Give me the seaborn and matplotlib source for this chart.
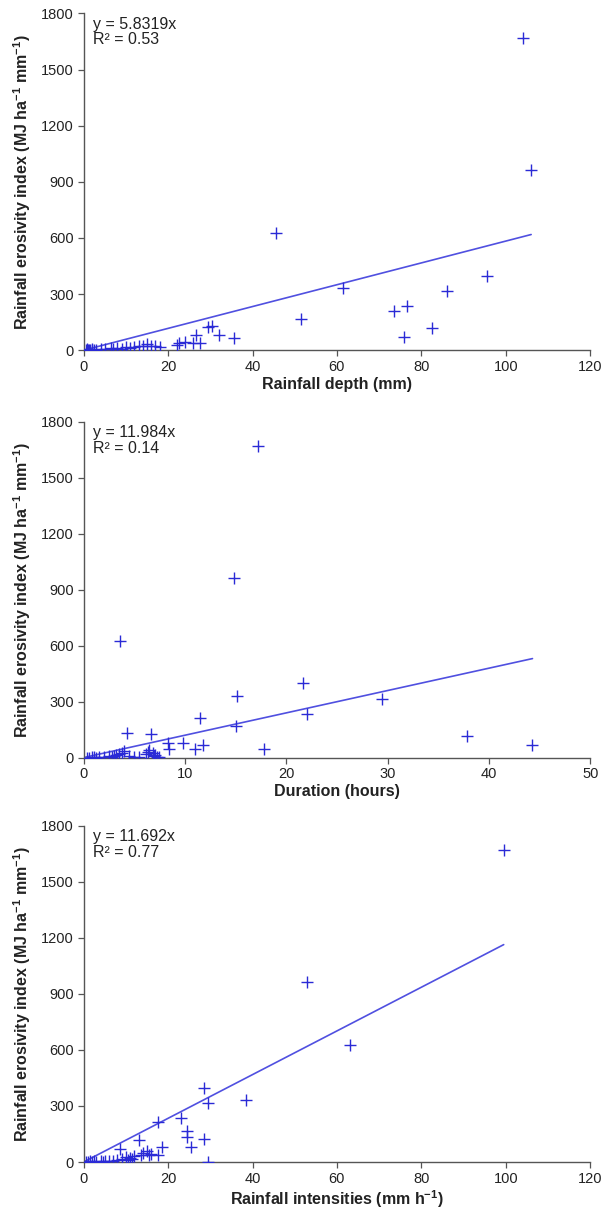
import matplotlib
matplotlib.use("Agg")
import matplotlib.pyplot as plt
import seaborn as sns
import numpy as np
import pandas as pd

# Panel 1: rainfall depth (mm) vs EI
depth_x = [104, 106, 45.5, 95.5, 86, 61.5, 73.5, 76.5, 82.5, 76, 51.5, 29.5, 30.5, 32, 35.5,
           26.5, 26, 27.5, 24, 22.5, 22, 15, 14, 16, 13, 12, 10, 11, 8, 7, 6.5, 5, 4, 3, 2,
           1.5, 1, 0.5, 2, 1.2, 0.8, 2.5, 9, 18, 17]
depth_y = [1670, 965, 625, 398, 315, 330, 212, 235, 118, 70, 168, 125, 130, 80, 65,
           80, 40, 40, 45, 40, 30, 35, 25, 20, 20, 15, 15, 10, 10, 5, 12, 5, 5, 3, 2,
           1, 0, 0, 5, 3, 8, 0, 8, 15, 20]

# Panel 2: duration (hours) vs EI
dur_x = [17.2, 14.8, 3.6, 21.7, 15.1, 29.4, 22, 11.5, 15, 4.3, 6.6, 37.8, 44.3, 8.3, 9.8,
         8.4, 11.8, 11, 17.8, 6.5, 6.4, 6.8, 7, 7.2, 6.9, 4, 3.8, 3.5, 3.2, 4.5, 5, 3, 2.5,
         2, 1.5, 1.2, 1, 0.5, 0.3, 0.8, 2.8, 5.5, 6.2, 7.4]
dur_y = [1670, 965, 625, 398, 330, 315, 235, 212, 170, 130, 125, 118, 70, 80, 80,
         45, 65, 45, 45, 40, 30, 25, 15, 5, 8, 35, 25, 20, 15, 10, 5, 10, 8,
         5, 3, 0, 2, 0, 0, 5, 3, 5, 20, 3]

# Panel 3: rainfall intensity (mm/h) vs EI
int_x = [99.5, 53, 63, 28.5, 38.5, 29.5, 23, 17.5, 24.5, 24.5, 28.5, 13, 25.5, 18.5, 8.5,
         15, 14, 15.5, 17.5, 29.5, 12, 11, 10, 9, 10.5, 8, 7, 6, 5, 4, 4.5, 3, 2, 1.5, 1,
         0.5, 2.5, 11.5, 16, 13.5]
int_y = [1670, 965, 625, 398, 330, 315, 235, 212, 165, 135, 125, 120, 80, 80, 70,
         60, 50, 40, 35, 0, 30, 20, 25, 15, 10, 10, 5, 8, 5, 3, 0, 2, 0, 5, 0,
         2, 8, 15, 45, 35]

slopes = [5.8319, 11.984, 11.692]
r2 = [0.53, 0.14, 0.77]
xlabels = ["Rainfall depth (mm)", "Duration (hours)", "Rainfall intensities (mm h$^{\\mathregular{-1}}$)"]
xmax = [120, 50, 120]
xstep = [20, 10, 20]
yticks = [0, 300, 600, 900, 1200, 1500, 1800]

sns.set_theme(style="ticks")
plt.rcParams['font.family'] = ['Liberation Sans', 'DejaVu Sans']

fig = plt.figure(figsize=(6.06, 12.16), dpi=100)
positions = [
    (0.138, 0.712, 0.836, 0.277),
    (0.138, 0.377, 0.836, 0.276),
    (0.138, 0.0444, 0.836, 0.2766),
]
datasets = [(depth_x, depth_y), (dur_x, dur_y), (int_x, int_y)]
mark_col = "#2a2ad6"
line_col = "#5050e0"

for i, (xs, ys) in enumerate(datasets):
    ax = fig.add_axes(positions[i])
    df = pd.DataFrame({"x": xs, "y": ys})
    sns.scatterplot(data=df, x="x", y="y", marker="+", s=75, color=mark_col,
                    linewidth=1.0, ax=ax, zorder=3)
    xl = np.array([0, max(xs)])
    fit = pd.DataFrame({"x": xl, "y": slopes[i] * xl})
    sns.lineplot(data=fit, x="x", y="y", color=line_col, linewidth=1.2, ax=ax, zorder=2)
    ax.set_xlim(0, xmax[i])
    ax.set_ylim(0, 1800)
    ax.set_xticks(np.arange(0, xmax[i] + 1, xstep[i]))
    ax.set_yticks(yticks)
    ax.tick_params(axis="both", labelsize=10.5, length=4, width=0.9, color="#555555",
                   labelcolor="#222222", direction="out", pad=3)
    for s in ["left", "bottom"]:
        ax.spines[s].set_color("#555555")
        ax.spines[s].set_linewidth(1.0)
    sns.despine(ax=ax)
    ax.set_xlabel(xlabels[i], fontsize=11.5, fontweight="bold", labelpad=2, color="#222222")
    ax.set_ylabel("Rainfall erosivity index (MJ ha$^{\\mathregular{-1}}$ mm$^{\\mathregular{-1}}$)",
                  fontsize=11.5, fontweight="bold", labelpad=6, color="#222222")
    ax.text(0.018, 0.99, f"y = {slopes[i]}x\nR² = {r2[i]:.2f}", transform=ax.transAxes,
            ha="left", va="top", fontsize=11.5, linespacing=1.05, color="#222222")

fig.savefig("out.png", dpi=100)
